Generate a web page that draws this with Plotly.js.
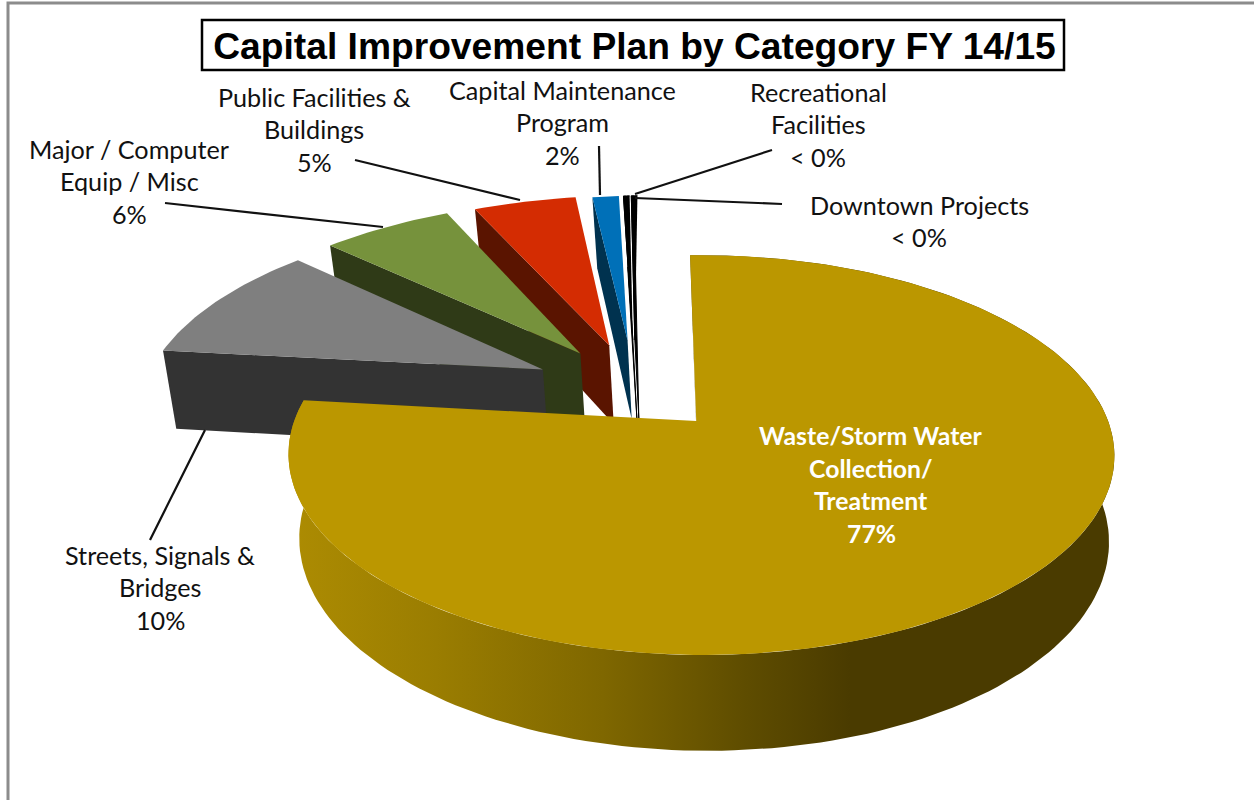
<!DOCTYPE html>
<html><head><meta charset="utf-8">
<script src="https://cdn.plot.ly/plotly-3.0.1.min.js"></script>
<style>html,body{margin:0;padding:0;background:#fff;overflow:hidden}#chart{width:1254px;height:800px}</style>
</head><body><div id="chart"></div>
<script>
// ---- data ----
const categories = ["Waste/Storm Water Collection/ Treatment","Streets, Signals & Bridges","Major / Computer Equip / Misc","Public Facilities & Buildings","Capital Maintenance Program","Recreational Facilities","Downtown Projects"];
const percents = [77.0, 10.1, 6.1, 4.9, 1.3, 0.3, 0.3];
const percentLabels = ["77%","10%","6%","5%","2%","< 0%","< 0%"];
const nameLines = [["Waste/Storm Water","Collection/","Treatment"],["Streets, Signals &","Bridges"],["Major / Computer","Equip / Misc"],["Public Facilities &","Buildings"],["Capital Maintenance","Program"],["Recreational","Facilities"],["Downtown Projects"]];
const chartTitle = "Capital Improvement Plan by Category FY 14/15";

// ---- styles and layout ----
const topColors = ["#bb9700","#7f7f7f","#76923c","#d42c02","#0070b8","#000000","#000000"];
const wallColors = ["#4a3b00","#333333","#2f3a17","#5a1400","#00324f","#000000","#000000"];
const explodeBySlice = [0.23,0.265,0.25,0.26,0.28,0.28,0.28];
const radiusBySlice = [1,1.03,1.05,1.03,1,1,1];
const labelCenters = [[871,435.5],[160,554.5],[129,148.5],[314,96.5],[562,89.5],[818,91.5],[919,204.5]];
const lineStep = 32.5;
const leaders = [[205,430,150,540],[165,203,383,227],[355,160,520,200],[599,146,600,195],[772,150,635,194],[782,204,635,198]];
const view = {cx:635, cy:389, a:394, b:183, k:0.165, m:0.012, shear:-10, depth:83, shrink:0.02, lowShift:4, rotation:-1};
const bodyFont = 'Lato, "Noto Sans", sans-serif';

function project(u, v, low){
  const w0 = 1 - view.k*v - view.m*u;
  const w = w0*(low ? 1+view.shrink : 1);
  return [view.cx + (view.a*u + view.shear*v)/w + (low ? view.lowShift : 0), view.cy + (view.b*v + (low ? view.depth : 0))/w];
}
const rad = d => d*Math.PI/180;
const total = percents.reduce((s,p)=>s+p,0);
let running = 0;
const slices = percents.map((p,i)=>{const t0=view.rotation+running/total*360; running+=p; return {t0, t1:view.rotation+running/total*360, e:explodeBySlice[i], r:radiusBySlice[i]};});

function planePoint(s, r, deg){
  const mid = rad((s.t0+s.t1)/2);
  return [s.e*Math.sin(mid) + r*s.r*Math.sin(rad(deg)), -s.e*Math.cos(mid) - r*s.r*Math.cos(rad(deg))];
}
function arcDegrees(s){
  const out=[], n=Math.max(2,Math.ceil((s.t1-s.t0)/1.5));
  for(let i=0;i<=n;i++) out.push(s.t0+(s.t1-s.t0)*i/n);
  return out;
}
function poly(points, color, name, extra, lw){
  return Object.assign({type:'scatter', mode:'lines', x:points.map(p=>p[0]), y:points.map(p=>p[1]),
    fill:'toself', fillcolor:color, line:{width:lw||0, color:color}, hoverinfo:'text', text:name, showlegend:false}, extra||{});
}
const traces=[];
for(let i=slices.length-1;i>=1;i--) addSlice(i);
addSlice(0);
function addSlice(i){
  const s=slices[i], deg=arcDegrees(s), name=categories[i]+": "+percentLabels[i];
  const at=(r,d,low)=>{const q=planePoint(s,r,d); return project(q[0],q[1],low);};
  const thin = i>=5 ? 1 : 0;
  if(i===0){
    const wallExtra = {fillgradient:{type:'horizontal',colorscale:[[0,'#ad8c02'],[0.18,'#9a7d01'],[0.38,'#7f6700'],[0.55,'#5f4d00'],[0.68,'#4a3b00'],[1,'#4a3b00']]}};
    traces.push(poly(deg.map(d=>at(1,d,false)).concat(deg.slice().reverse().map(d=>at(1,d,true))), wallColors[i], name, wallExtra));
  }
  traces.push(poly([at(1,s.t0,false),at(0,0,false),at(0,0,true),at(1,s.t0,true)], wallColors[i], name, null, thin));
  traces.push(poly([at(0,0,false)].concat(deg.map(d=>at(1,d,false))), topColors[i], name, null, thin));
}

const annotations=[];
nameLines.forEach((lines,i)=>{
  lines.concat([percentLabels[i]]).forEach((t,j)=>{
    annotations.push({x:labelCenters[i][0], y:labelCenters[i][1]+j*lineStep, xref:'x', yref:'y', text:i===0?'<b>'+t+'</b>':t,
      showarrow:false, xanchor:'center', yanchor:'middle',
      font:{family:bodyFont, size:i===0?24.8:25.2, color:i===0?'#ffffff':'#111111'}});
  });
});
const shapes=[
  {type:'rect',xref:'x',yref:'y',x0:8,y0:3,x1:1270,y1:820,line:{color:'#8c8c8c',width:3},layer:'below'},
  {type:'rect',xref:'x',yref:'y',x0:202,y0:20,x1:1064,y1:70,line:{color:'#000000',width:2.5},layer:'below'}
].concat(leaders.map(l=>({type:'line',xref:'x',yref:'y',x0:l[0],y0:l[1],x1:l[2],y1:l[3],line:{color:'#111111',width:2.2}})));

Plotly.newPlot('chart',traces,{
  width:1254,height:800,margin:{l:0,r:0,t:0,b:0},paper_bgcolor:'#ffffff',plot_bgcolor:'#ffffff',showlegend:false,
  title:{text:'<b>'+chartTitle+'</b>',x:634.5/1254,xref:'paper',xanchor:'center',y:1-46/800,yref:'paper',yanchor:'middle',
    font:{family:'"Liberation Sans", Arial, sans-serif',size:37.2,color:'#000000'}},
  xaxis:{range:[0,1254],visible:false,fixedrange:true},
  yaxis:{range:[800,0],visible:false,fixedrange:true},
  annotations:annotations,shapes:shapes
},{displayModeBar:false});
</script></body></html>
